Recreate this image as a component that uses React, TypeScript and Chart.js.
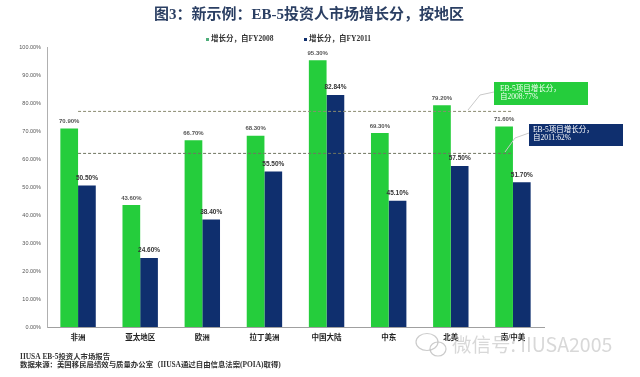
import React, { useEffect, useRef } from "react";
import { Chart, registerables } from "chart.js";

Chart.register(...registerables);

const categories = ["非洲", "亚太地区", "欧洲", "拉丁美洲", "中国大陆", "中东", "北美", "南/中美"];
const fy2008 = [70.9, 43.6, 66.7, 68.3, 95.3, 69.3, 79.2, 71.6];
const fy2011 = [50.5, 24.6, 38.4, 55.5, 82.84, 45.1, 57.5, 51.7];
const avg2008 = [77, 77, 77, 77, 77, 77, 77, 77];
const avg2011 = [62, 62, 62, 62, 62, 62, 62, 62];
const labels2008 = ["70.90%", "43.60%", "66.70%", "68.30%", "95.30%", "69.30%", "79.20%", "71.60%"];
const labels2011 = ["50.50%", "24.60%", "38.40%", "55.50%", "82.84%", "45.10%", "57.50%", "51.70%"];

const GREEN = "#25cd3c";
const NAVY = "#0f2f6e";
const SERIF = '"Liberation Serif", "Noto Sans CJK SC", serif';

const overlay = {
  id: "overlay",
  afterDatasetsDraw(chart: any) {
    const c = chart.ctx as CanvasRenderingContext2D;
    c.save();
    c.textBaseline = "middle";

    // title
    c.fillStyle = "#2b3f63";
    c.textAlign = "center";
    c.font = `bold 15px ${SERIF}`;
    c.fillText("图3：新示例：EB-5投资人市场增长分，按地区", 309, 15);

    // legend
    c.textAlign = "left";
    c.font = `bold 7.5px ${SERIF}`;
    c.fillStyle = "#4fae7a";
    c.fillRect(206, 38, 3, 3);
    c.fillStyle = "#333";
    c.fillText("增长分，自FY2008", 211, 39.5);
    c.fillStyle = NAVY;
    c.fillRect(304, 38, 3, 3);
    c.fillStyle = "#333";
    c.fillText("增长分，自FY2011", 309, 39.5);

    // value labels
    c.textAlign = "center";
    c.font = 'bold 6px "Liberation Sans", sans-serif';
    c.fillStyle = "#555";
    chart.getDatasetMeta(0).data.forEach((b: any, i: number) => {
      c.fillText(labels2008[i], b.x, b.y - 7);
    });
    c.font = 'bold 6.5px "Liberation Sans", sans-serif';
    c.fillStyle = "#333";
    chart.getDatasetMeta(1).data.forEach((b: any, i: number) => {
      c.fillText(labels2011[i], b.x, b.y - 7.5);
    });

    // callouts
    c.strokeStyle = "#c9c9c9";
    c.lineWidth = 1;
    c.beginPath();
    c.moveTo(468, 110);
    c.lineTo(480, 95);
    c.lineTo(494, 92);
    c.moveTo(505, 152);
    c.lineTo(515, 138);
    c.lineTo(529, 133);
    c.stroke();

    c.fillStyle = GREEN;
    c.fillRect(494, 82, 94, 23);
    c.fillStyle = NAVY;
    c.fillRect(529, 124, 94, 22);
    c.textAlign = "left";
    c.font = `7.5px ${SERIF}`;
    c.fillStyle = "#f2fff2";
    c.fillText("EB-5项目增长分，", 500, 89);
    c.fillText("自2008:77%", 500, 97);
    c.fillStyle = "#ffffff";
    c.fillText("EB-5项目增长分，", 533, 130);
    c.fillText("自2011:62%", 533, 138);

    // footer
    c.font = `bold 7.4px ${SERIF}`;
    c.fillStyle = "#333";
    c.fillText("IIUSA EB-5投资人市场报告", 20, 357);
    c.fillText("数据来源：美国移民局绩效与质量办公室（IIUSA通过自由信息法案(POIA)取得)", 20, 365);

    // watermark
    c.strokeStyle = "rgba(190,190,190,0.8)";
    c.lineWidth = 1.2;
    c.beginPath();
    c.ellipse(427, 342, 11, 8.5, 0, 0, Math.PI * 2);
    c.stroke();
    c.beginPath();
    c.ellipse(438, 349, 8, 7, 0, 0, Math.PI * 2);
    c.stroke();
    c.font = '19.5px "Noto Sans CJK SC", "Noto Sans", sans-serif';
    c.fillStyle = "rgba(190,190,190,0.6)";
    c.fillText("微信号: IIUSA2005", 452, 345);
    c.restore();
  },
};

export default function App() {
  const ref = useRef<HTMLCanvasElement>(null);
  useEffect(() => {
    const chart = new Chart(ref.current!, {
      type: "bar",
      data: {
        labels: categories,
        datasets: [
          { label: "增长分，自FY2008", data: fy2008, backgroundColor: GREEN, categoryPercentage: 0.57, barPercentage: 1, order: 2 },
          { label: "增长分，自FY2011", data: fy2011, backgroundColor: NAVY, categoryPercentage: 0.57, barPercentage: 1, order: 2 },
          { type: "line", label: "EB-5项目增长分，自2008", data: avg2008, borderColor: "#8a8a70", borderWidth: 1, borderDash: [3, 2], pointRadius: 0, order: 1 },
          { type: "line", label: "EB-5项目增长分，自2011", data: avg2011, borderColor: "#6f7560", borderWidth: 1, borderDash: [3, 2], pointRadius: 0, order: 1 },
        ],
      } as any,
      plugins: [overlay],
      options: {
        animation: false,
        responsive: false,
        layout: { padding: { top: 47, left: 0, right: 96, bottom: 30 } },
        plugins: { legend: { display: false }, title: { display: false }, tooltip: { enabled: false } },
        scales: {
          x: {
            afterFit: (s: any) => { s.height = 20; },
            grid: { display: false, drawTicks: false },
            border: { color: "#a0a0a0" },
            ticks: { color: "#222", font: { size: 7.5, weight: "bold", family: SERIF }, padding: 7, maxRotation: 0, autoSkip: false },
          },
          y: {
            min: 0,
            max: 100,
            afterFit: (s: any) => { s.width = 47; },
            grid: { display: false, drawTicks: false },
            border: { color: "#b0b0b0" },
            ticks: {
              stepSize: 10,
              color: "#555",
              padding: 6,
              font: { size: 5.5, family: '"Liberation Sans", sans-serif' },
              callback: (v: any) => `${Number(v).toFixed(2)}%`,
            },
          },
        },
      } as any,
    });
    return () => chart.destroy();
  }, []);
  return (
    <div style={{ position: "fixed", left: 0, top: 0, width: 640, height: 377, background: "#fff", overflow: "hidden" }}>
      <canvas ref={ref} width={640} height={377} style={{ display: "block", filter: "blur(0.4px)" }} />
    </div>
  );
}
